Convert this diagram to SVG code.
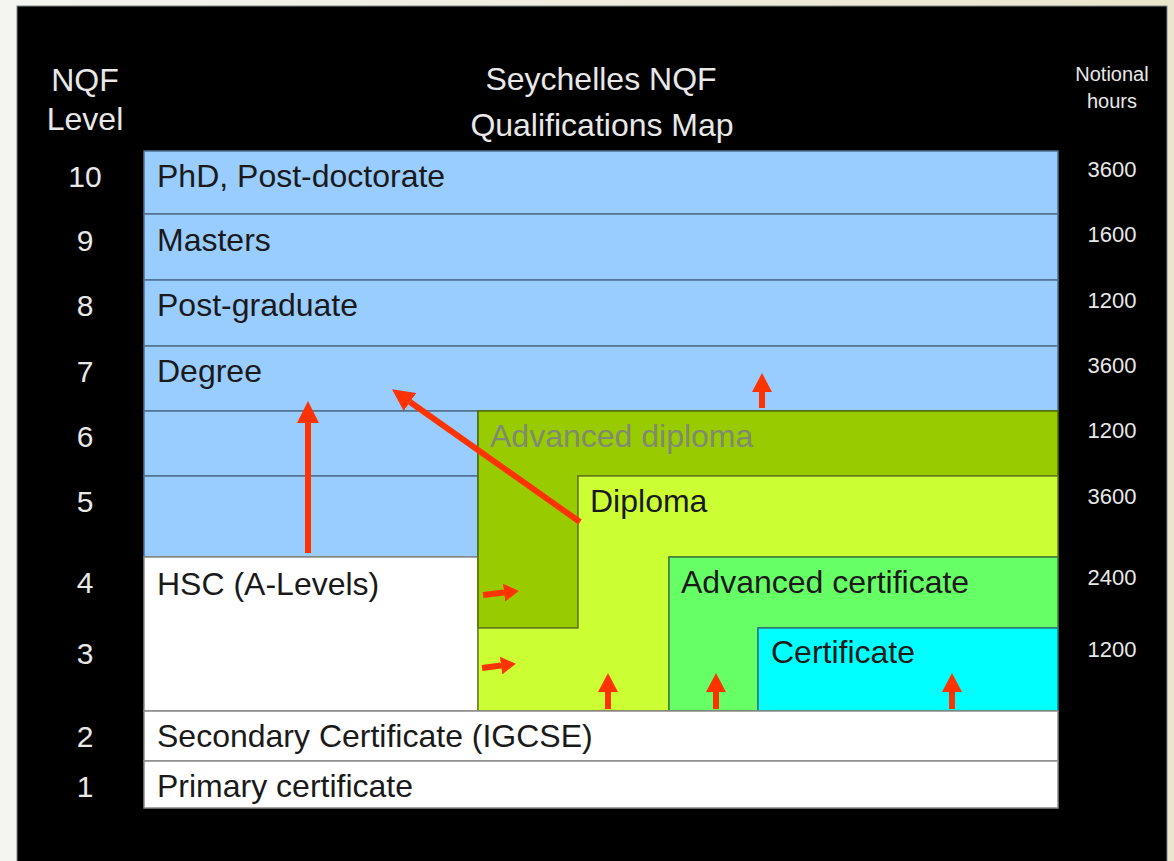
<svg xmlns="http://www.w3.org/2000/svg" width="1174" height="861" viewBox="0 0 1174 861">
<defs>
<linearGradient id="bg" x1="0" y1="0" x2="1" y2="0">
<stop offset="0" stop-color="#f4f4f0"/>
<stop offset="1" stop-color="#ebe5cc"/>
</linearGradient>
<marker id="ahBig" markerUnits="userSpaceOnUse" markerWidth="22" markerHeight="22" refX="0" refY="11" orient="auto"><path d="M0,0 L22,11 L0,22 Z" fill="#ff3300"/></marker>
<marker id="ahSmall" markerUnits="userSpaceOnUse" markerWidth="20" markerHeight="20" refX="0" refY="10" orient="auto"><path d="M0,0 L19,10 L0,20 Z" fill="#ff3300"/></marker>
<marker id="ahTiny" markerUnits="userSpaceOnUse" markerWidth="15" markerHeight="18" refX="0" refY="9" orient="auto"><path d="M0,0 L15,9 L0,18 Z" fill="#ff3300"/></marker>
</defs>
<style>
text{font-family:"Liberation Sans",Arial,sans-serif}
.hdr{fill:#e8e8e8;font-size:32px;text-anchor:middle}
.lvl{fill:#e8e8e8;font-size:30px;text-anchor:middle}
.hrs{fill:#e8e8e8;font-size:22px;text-anchor:middle}
.nh{fill:#e8e8e8;font-size:20px;text-anchor:middle}
.lbl{fill:#1a1a1a;font-size:32px}
.blue{fill:#99ccff;stroke:#4f6f8f;stroke-width:1.5}
.white{fill:#ffffff;stroke:#8a8a8a;stroke-width:1.5}
.advdip{fill:#99cc00;stroke:#4f6a00;stroke-width:1.5}
.dip{fill:#ccff33;stroke:#6a7a20;stroke-width:1.5}
.advcert{fill:#66ff66;stroke:#3f7a3f;stroke-width:1.5}
.cert{fill:#00ffff;stroke:#2a7a7a;stroke-width:1.5}
.arr{stroke:#ff3300;stroke-width:6;fill:none}
.arrs{stroke:#ff3300;stroke-width:6;fill:none}
.arrt{stroke:#ff3300;stroke-width:6;fill:none}
</style>
<rect x="0" y="0" width="1174" height="861" fill="url(#bg)"/>
<rect x="17" y="6" width="1150" height="860" fill="#000000" stroke="#7a8a8a" stroke-width="1"/>

<g id="headers">
<text class="hdr" x="85" y="91">NQF</text>
<text class="hdr" x="85" y="130">Level</text>
<text class="hdr" x="601" y="90">Seychelles NQF</text>
<text class="hdr" x="602" y="136">Qualifications Map</text>
<text class="nh" x="1112" y="81">Notional</text>
<text class="nh" x="1112" y="108">hours</text>
</g>

<g id="levels">
<text class="lvl" x="85" y="187">10</text>
<text class="lvl" x="85" y="251">9</text>
<text class="lvl" x="85" y="316">8</text>
<text class="lvl" x="85" y="382">7</text>
<text class="lvl" x="85" y="447">6</text>
<text class="lvl" x="85" y="512">5</text>
<text class="lvl" x="85" y="593">4</text>
<text class="lvl" x="85" y="664">3</text>
<text class="lvl" x="85" y="747">2</text>
<text class="lvl" x="85" y="797">1</text>
</g>

<g id="hours">
<text class="hrs" x="1112" y="177">3600</text>
<text class="hrs" x="1112" y="242">1600</text>
<text class="hrs" x="1112" y="308">1200</text>
<text class="hrs" x="1112" y="373">3600</text>
<text class="hrs" x="1112" y="438">1200</text>
<text class="hrs" x="1112" y="504">3600</text>
<text class="hrs" x="1112" y="585">2400</text>
<text class="hrs" x="1112" y="657">1200</text>
</g>

<g id="phd"><rect class="blue" x="144" y="151" width="914" height="63"/><text class="lbl" x="157" y="187">PhD, Post-doctorate</text></g>
<g id="masters"><rect class="blue" x="144" y="214" width="914" height="66"/><text class="lbl" x="157" y="251">Masters</text></g>
<g id="postgrad"><rect class="blue" x="144" y="280" width="914" height="66"/><text class="lbl" x="157" y="316">Post-graduate</text></g>
<g id="degree"><rect class="blue" x="144" y="346" width="914" height="65"/><text class="lbl" x="157" y="382">Degree</text>
<rect class="blue" x="144" y="411" width="334" height="65"/>
<rect class="blue" x="144" y="476" width="334" height="81"/></g>
<g id="hsc"><rect class="white" x="144" y="557" width="334" height="154"/><text class="lbl" x="157" y="595">HSC (A-Levels)</text></g>
<g id="advanced-diploma"><path class="advdip" d="M478,411 H1058 V476 H578 V628 H478 Z"/><text class="lbl" x="490" y="447" style="fill:#7f8a70">Advanced diploma</text></g>
<g id="diploma"><path class="dip" d="M578,476 H1058 V557 H669 V711 H478 V628 H578 Z"/><text class="lbl" x="590" y="512">Diploma</text></g>
<g id="advanced-certificate"><path class="advcert" d="M669,557 H1058 V628 H758 V711 H669 Z"/><text class="lbl" x="681" y="593">Advanced certificate</text></g>
<g id="certificate"><rect class="cert" x="758" y="628" width="300" height="83"/><text class="lbl" x="771" y="663">Certificate</text></g>
<g id="secondary"><rect class="white" x="144" y="711" width="914" height="50"/><text class="lbl" x="157" y="747">Secondary Certificate (IGCSE)</text></g>
<g id="primary"><rect class="white" x="144" y="761" width="914" height="47"/><text class="lbl" x="157" y="797">Primary certificate</text></g>

<g id="connectors">
<line class="arr" x1="308" y1="553" x2="308" y2="423" marker-end="url(#ahBig)"/>
<line class="arr" x1="580" y1="522" x2="410" y2="402" marker-end="url(#ahBig)"/>
<line class="arrs" x1="762" y1="408" x2="762" y2="392" marker-end="url(#ahSmall)"/>
<line class="arrt" x1="483" y1="595" x2="504" y2="592.6" marker-end="url(#ahTiny)"/>
<line class="arrt" x1="482" y1="668" x2="501" y2="665.6" marker-end="url(#ahTiny)"/>
<line class="arrs" x1="608" y1="709" x2="608" y2="692" marker-end="url(#ahSmall)"/>
<line class="arrs" x1="716" y1="709" x2="716" y2="692" marker-end="url(#ahSmall)"/>
<line class="arrs" x1="952" y1="709" x2="952" y2="692" marker-end="url(#ahSmall)"/>
</g>
</svg>
